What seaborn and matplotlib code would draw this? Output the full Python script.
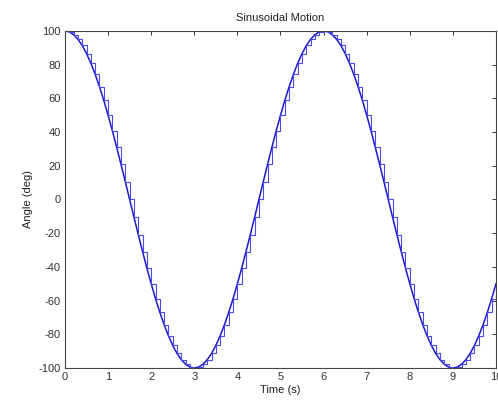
import numpy as np
import pandas as pd
import matplotlib
matplotlib.use("Agg")
import matplotlib.pyplot as plt
import seaborn as sns

# sample times (s), 0.1 s apart
time_s = [
    0.0, 0.1, 0.2, 0.3, 0.4, 0.5, 0.6, 0.7, 0.8, 0.9,
    1.0, 1.1, 1.2, 1.3, 1.4, 1.5, 1.6, 1.7, 1.8, 1.9,
    2.0, 2.1, 2.2, 2.3, 2.4, 2.5, 2.6, 2.7, 2.8, 2.9,
    3.0, 3.1, 3.2, 3.3, 3.4, 3.5, 3.6, 3.7, 3.8, 3.9,
    4.0, 4.1, 4.2, 4.3, 4.4, 4.5, 4.6, 4.7, 4.8, 4.9,
    5.0, 5.1, 5.2, 5.3, 5.4, 5.5, 5.6, 5.7, 5.8, 5.9,
    6.0, 6.1, 6.2, 6.3, 6.4, 6.5, 6.6, 6.7, 6.8, 6.9,
    7.0, 7.1, 7.2, 7.3, 7.4, 7.5, 7.6, 7.7, 7.8, 7.9,
    8.0, 8.1, 8.2, 8.3, 8.4, 8.5, 8.6, 8.7, 8.8, 8.9,
    9.0, 9.1, 9.2, 9.3, 9.4, 9.5, 9.6, 9.7, 9.8, 9.9,
    10.0,
]

# angle (deg)
angle_deg = [
    100.0, 99.5, 97.8, 95.1, 91.4, 86.6, 80.9, 74.3, 66.9, 58.8,
    50.0, 40.7, 30.9, 20.8, 10.5, 0.0, -10.5, -20.8, -30.9, -40.7,
    -50.0, -58.8, -66.9, -74.3, -80.9, -86.6, -91.4, -95.1, -97.8, -99.5,
    -100.0, -99.5, -97.8, -95.1, -91.4, -86.6, -80.9, -74.3, -66.9, -58.8,
    -50.0, -40.7, -30.9, -20.8, -10.5, 0.0, 10.5, 20.8, 30.9, 40.7,
    50.0, 58.8, 66.9, 74.3, 80.9, 86.6, 91.4, 95.1, 97.8, 99.5,
    100.0, 99.5, 97.8, 95.1, 91.4, 86.6, 80.9, 74.3, 66.9, 58.8,
    50.0, 40.7, 30.9, 20.8, 10.5, 0.0, -10.5, -20.8, -30.9, -40.7,
    -50.0, -58.8, -66.9, -74.3, -80.9, -86.6, -91.4, -95.1, -97.8, -99.5,
    -100.0, -99.5, -97.8, -95.1, -91.4, -86.6, -80.9, -74.3, -66.9, -58.8,
    -50.0,
]

x_ticks = [0, 1, 2, 3, 4, 5, 6, 7, 8, 9, 10]
y_ticks = [-100, -80, -60, -40, -20, 0, 20, 40, 60, 80, 100]

sns.set_theme(style="white")
plt.rcParams["font.family"] = ["Liberation Sans", "DejaVu Sans"]
plt.rcParams.update({
    "axes.unicode_minus": False,
    "xtick.direction": "in",
    "ytick.direction": "in",
    "xtick.top": True,
    "ytick.right": True,
    "xtick.major.size": 3,
    "ytick.major.size": 3,
    "xtick.major.width": 0.7,
    "ytick.major.width": 0.7,
    "xtick.color": "#333333",
    "ytick.color": "#333333",
})

df = pd.DataFrame({"time": time_s, "angle": angle_deg})

fig = plt.figure(figsize=(4.98, 4.05), dpi=100)
ax = fig.add_axes([0.1305, 0.0914, 0.8655, 0.8321])

# smooth curve and the held (stairs) version
sns.lineplot(data=df, x="time", y="angle", ax=ax, color="#1a1acc", linewidth=1.1)
sns.lineplot(data=df, x="time", y="angle", ax=ax, color="#4a4aee",
             linewidth=0.8, drawstyle="steps-post")

ax.set_xlim(0, 10)
ax.set_ylim(-100, 100)
ax.set_xticks(x_ticks)
ax.set_yticks(y_ticks)
ax.tick_params(labelsize=8, pad=3, colors="#333333")
for s in ax.spines.values():
    s.set_color("#444444")
    s.set_linewidth(0.8)

ax.set_title("Sinusoidal Motion", fontsize=8, pad=7, color="#222222")
ax.set_xlabel("Time (s)", fontsize=8, labelpad=2, color="#222222")
ax.set_ylabel("Angle (deg)", fontsize=8, labelpad=4, color="#222222")

fig.savefig("out.png", dpi=100)
